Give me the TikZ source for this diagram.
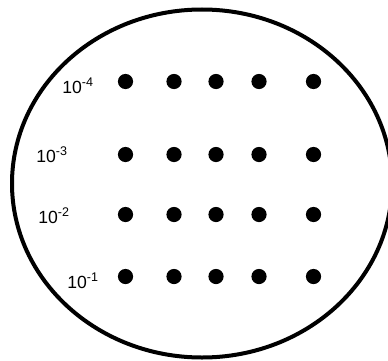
\documentclass[tikz,border=0pt]{standalone}
\usepackage{fontspec}
\setmainfont{Liberation Sans}
\usepackage{tikz}
\newcommand{\tenpow}[1]{10\raisebox{5pt}{\fontsize{9.4}{9.4}\selectfont#1}}

\begin{document}
\begin{tikzpicture}[x=0.75pt,y=-0.75pt,
    conc/.style={anchor=base west,inner sep=0pt,font=\fontsize{13.2}{15}\selectfont}]
  \clip (0,0) rectangle (388,360);
  \draw[line width=3pt] (202,183.5) ellipse [x radius=190,y radius=174];
  \foreach \y in {81.5,154.5,214.5,276.5}
    \foreach \x in {125.5,174,216,259,313.5}
      \fill (\x,\y) circle (7.6);
  \node[conc] (c4) at (62,93) {\tenpow{-4}};
  \node[conc] (c3) at (36,162) {\tenpow{-3}};
  \node[conc] (c2) at (38,223) {\tenpow{-2}};
  \node[conc] (c1) at (67,288.5) {\tenpow{-1}};
\end{tikzpicture}
\end{document}
